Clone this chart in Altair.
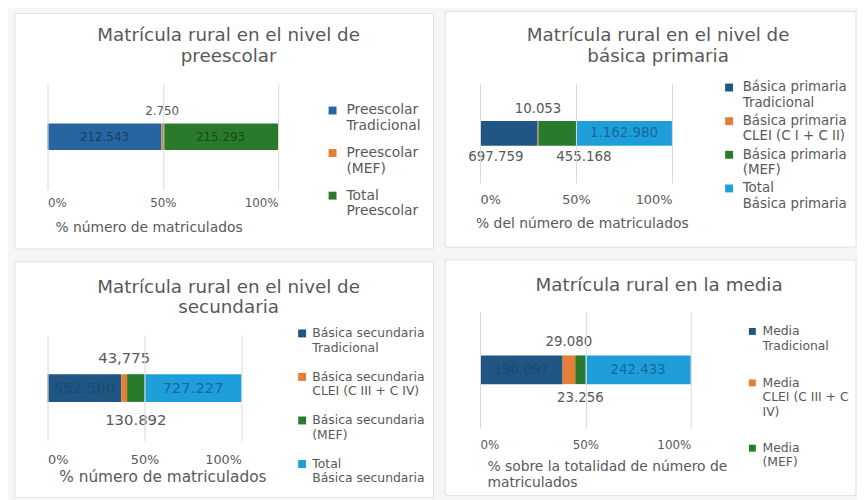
import json
import altair as alt
import pandas as pd

FONT = "DejaVu Sans"
GRAY = "#595959"

# ---------------- data ----------------
pre_cats = ["Preescolar Tradicional", "Preescolar (MEF)", "Total Preescolar"]
pre_vals = [212543, 2750, 215293]
pre_labels = ["212.543", "2.750", "215.293"]

pri_cats = ["Básica primaria Tradicional", "Básica primaria CLEI (C I + C II)",
            "Básica primaria (MEF)", "Total Básica primaria"]
pri_vals = [697759, 10053, 455168, 1162980]
pri_labels = ["697.759", "10.053", "455.168", "1.162.980"]

sec_cats = ["Básica secundaria Tradicional", "Básica secundaria CLEI (C III + C IV)",
            "Básica secundaria (MEF)", "Total Básica secundaria"]
sec_vals = [552560, 43775, 130892, 727227]
sec_labels = ["552.560", "43,775", "130.892", "727.227"]

med_cats = ["Media Tradicional", "Media CLEI (C III + C IV)", "Media (MEF)", "Total Media"]
med_vals = [190097, 29080, 23256, 242433]
med_labels = ["190.097", "29.080", "23.256", "242.433"]

# legend line breaks (text as shown)
pre_wrap = [["Preescolar", "Tradicional"], ["Preescolar", "(MEF)"], ["Total", "Preescolar"]]
pri_wrap = [["Básica primaria", "Tradicional"], ["Básica primaria", "CLEI (C I + C II)"],
            ["Básica primaria", "(MEF)"], ["Total", "Básica primaria"]]
sec_wrap = [["Básica secundaria", "Tradicional"], ["Básica secundaria", "CLEI (C III + C IV)"],
            ["Básica secundaria", "(MEF)"], ["Total", "Básica secundaria"]]
med_wrap = [["Media", "Tradicional"], ["Media", "CLEI (C III + C", "IV)"], ["Media", "(MEF)"],
            ["Total", "Media"]]

# ---------------- style ----------------
DARK = "#1f5683"
DARK_TL = "#2765a0"
ORANGE = "#e57d37"
GREEN = "#2a7a2d"
LIGHT = "#1f9fd9"


def wrap_expr(names, lines):
    expr = "datum.label"
    for n, ls in zip(reversed(names), reversed(lines)):
        arr = "[" + ", ".join(json.dumps(s, ensure_ascii=False) for s in ls) + "]"
        expr = f"(datum.label === {json.dumps(n, ensure_ascii=False)} ? {arr} : {expr})"
    return expr


def panel(cats, vals, labels, wrap, g):
    df = pd.DataFrame({"cat": cats, "value": vals, "label": labels,
                       "idx": list(range(len(cats))), "row": ["r"] * len(cats)})
    one = pd.DataFrame({"k": [0]})
    xs = alt.Scale(domain=[0, 1])
    ys = alt.Y("row:N", axis=None)
    fx0, fx1, fy0, fy1 = g["frame"]
    frame = alt.Chart(one).mark_rect(fill="white", stroke="#e2e2e2", strokeWidth=1).encode(
        x=alt.value(fx0), x2=alt.value(fx1), y=alt.value(fy0), y2=alt.value(fy1))
    ttl = alt.Chart(one).mark_text(font=FONT, fontSize=g["title_size"], color=GRAY,
                                   align="center", baseline="alphabetic",
                                   lineHeight=g["title_lh"]).encode(
        x=alt.value(g["title_xy"][0]), y=alt.value(g["title_xy"][1]), text=alt.value(g["title"]))
    legend = alt.Legend(
        title=None, orient="none", legendX=g["leg_xy"][0], legendY=g["leg_xy"][1],
        symbolType="square", symbolSize=g["sym"], symbolStrokeWidth=0,
        labelFont=FONT, labelFontSize=g["leg_size"], labelColor=GRAY, labelLimit=250,
        labelExpr=wrap_expr(cats, wrap), rowPadding=g["row_pad"], labelOffset=g["leg_off"],
        padding=0, symbolOffset=0, values=g["leg_values"],
    )
    axis = alt.Axis(
        values=[0, 0.5, 1], format="%", grid=True, gridColor="#d9d9d9", gridWidth=1,
        domain=False, ticks=False, labelFont=FONT, labelFontSize=g["ax_size"], labelColor=GRAY,
        labelPadding=g["ax_pad"], title=g["xtitle"], titleFont=FONT, titleFontSize=g["xt_size"],
        titleColor=GRAY, titleFontWeight="normal", titleX=g["xt_xy"][0], titleY=g["xt_xy"][1],
        titleAlign=g["xt_align"], titleBaseline="alphabetic", titleLineHeight=g["xt_lh"], zindex=1,
    )
    bars = alt.Chart(df).mark_bar(size=g["bar_h"]).encode(
        x=alt.X("value:Q", stack="normalize", scale=xs, axis=axis),
        y=ys,
        color=alt.Color("cat:N", scale=alt.Scale(domain=cats, range=g["colors"]), legend=legend),
        order=alt.Order("idx:Q", sort="ascending"),
    )
    stacked = alt.Chart(df).transform_stack(
        stack="value", as_=["s0", "s1"], groupby=["row"], offset="normalize",
        sort=[alt.SortField("idx", order="ascending")],
    ).transform_calculate(mid="(datum.s0 + datum.s1) / 2")
    texts = []
    for i, (dx, dy, col) in enumerate(g["lab"]):
        texts.append(
            stacked.transform_filter(f"datum.idx == {i}").mark_text(
                font=FONT, fontSize=g["lab_size"], color=col, dx=dx, dy=dy, baseline="middle"
            ).encode(x=alt.X("mid:Q", scale=xs, title=g["xtitle"]), y=ys, text="label:N")
        )
    return alt.layer(frame, bars, *texts, ttl).properties(width=g["w"], height=g["h"])


g_tl = dict(
    w=233, h=107, bar_h=27, frame=(-33, 390, -71, 167),
    title=["Matrícula rural en el nivel de", "preescolar"], title_xy=(183, -43), title_size=18.5, title_lh=21,
    colors=[DARK_TL, ORANGE, GREEN], leg_xy=(281, 20), leg_size=14, sym=64, row_pad=13, leg_off=7,
    leg_values=pre_cats, ax_size=12, ax_pad=8, xtitle="% número de matriculados", xt_size=14,
    xt_xy=(102, 42), xt_align="center", xt_lh=16, lab_size=12,
    lab=[(0, 0, "#173f63"), (0, -26, GRAY), (0, 0, "#174a1c")],
)
g_tr = dict(
    w=194, h=100, bar_h=25, frame=(-35, 380, -73, 165),
    title=["Matrícula rural en el nivel de", "básica primaria"], title_xy=(180, -43), title_size=18.5, title_lh=21,
    colors=[DARK, ORANGE, GREEN, LIGHT], leg_xy=(245, -3), leg_size=13.5, sym=64, row_pad=4, leg_off=7,
    leg_values=pri_cats, ax_size=13, ax_pad=11, xtitle="% del número de matriculados", xt_size=14,
    xt_xy=(103, 45), xt_align="center", xt_lh=16, lab_size=13.5,
    lab=[(-13, 24, GRAY), (0, -25, GRAY), (27, 24, GRAY), (0, 0, "#1668a0")],
)
g_bl = dict(
    w=196, h=107, bar_h=28, frame=(-33, 390, -74, 164),
    title=["Matrícula rural en el nivel de", "secundaria"], title_xy=(183, -43), title_size=18.5, title_lh=21,
    colors=[DARK, ORANGE, GREEN, LIGHT], leg_xy=(251, -8), leg_size=12.5, sym=64, row_pad=16, leg_off=4,
    leg_values=sec_cats, ax_size=13, ax_pad=13, xtitle="% número de matriculados", xt_size=15.5,
    xt_xy=(116, 41), xt_align="center", xt_lh=17, lab_size=15,
    lab=[(0, 0, "#1b4a6e"), (0, -30, GRAY), (0, 32, GRAY), (0, 0, "#1668a0")],
)
g_br = dict(
    w=213, h=118, bar_h=29, frame=(-35, 380, -52, 186),
    title=["Matrícula rural en la media"], title_xy=(181, -21), title_size=18.5, title_lh=21,
    colors=[DARK, ORANGE, GREEN, LIGHT], leg_xy=(269, 14), leg_size=12.5, sym=49, row_pad=24, leg_off=4,
    leg_values=med_cats[:3], ax_size=12, ax_pad=12,
    xtitle=["% sobre la totalidad de número de", "matriculados"], xt_size=14,
    xt_xy=(7, 43), xt_align="left", xt_lh=16, lab_size=13.5,
    lab=[(0, 0, "#1b4a6e"), (0, -28, GRAY), (0, 29, GRAY), (0, 0, "#1668a0")],
)

p1 = panel(pre_cats, pre_vals, pre_labels, pre_wrap, g_tl)
p2 = panel(pri_cats, pri_vals, pri_labels, pri_wrap, g_tr)
p3 = panel(sec_cats, sec_vals, sec_labels, sec_wrap, g_bl)
p4 = panel(med_cats, med_vals, med_labels, med_wrap, g_br)


def indep(c):
    return c.resolve_scale(color="independent", x="independent", y="independent").resolve_legend(color="independent")


col1 = indep(alt.vconcat(p1, p3, spacing=11))
col2 = indep(alt.vconcat(p2, p4, spacing=11))

chart = indep(alt.hconcat(col1, col2, spacing=10)).properties(
    padding={"left": 6, "top": 0, "right": 0, "bottom": 0},
    background="#f6f6f6",
).configure_view(stroke=None)

chart.save("out.html", embed_options={"renderer": "svg", "actions": False})
